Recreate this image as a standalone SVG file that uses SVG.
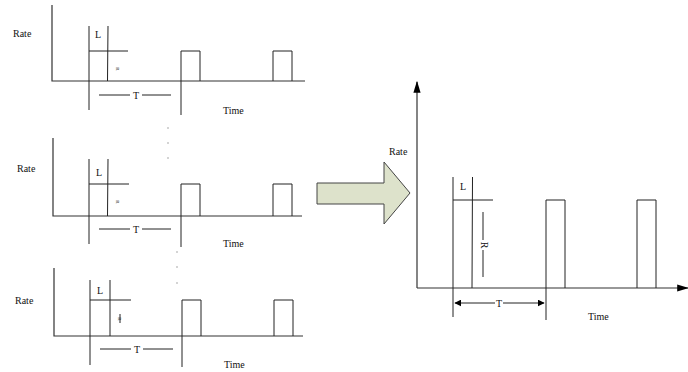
<svg xmlns="http://www.w3.org/2000/svg" width="688" height="372" viewBox="0 0 688 372">
<style>
.ln{stroke:#222;stroke-width:1;fill:none}
.ax{stroke:#333;stroke-width:1.2;fill:none}
.tx{font-family:"Liberation Serif","Times New Roman",serif;font-size:10px;fill:#111}
.sm{font-family:"Liberation Serif","Times New Roman",serif;font-size:5px;fill:#111}
.dot{fill:#555}
</style>
<defs>
<marker id="ah" viewBox="0 0 10 10" refX="9" refY="5" markerWidth="7" markerHeight="7" markerUnits="userSpaceOnUse" orient="auto-start-reverse">
<path d="M0,0 L10,5 L0,10 z" fill="#000"/>
</marker>
<marker id="ahb" viewBox="0 0 10 10" refX="9" refY="5" markerWidth="12" markerHeight="12" markerUnits="userSpaceOnUse" orient="auto">
<path d="M0,2 L10,5 L0,8 z" fill="#000"/>
</marker>
</defs>
<rect width="688" height="372" fill="#fff"/>

<g id="panel1">
<text class="tx" x="13" y="37">Rate</text>
<path class="ax" d="M52,5 V81 H305"/>
<path class="ln" d="M89,26 V110 M108,26 L107.5,81 M89,51 H128"/>
<text class="tx" x="95" y="38">L</text>
<text class="sm" transform="translate(116,69) rotate(90)" text-anchor="middle">R</text>
<path class="ln" d="M99,95 H130 M142,95 H171"/>
<text class="tx" x="136" y="98.5" text-anchor="middle">T</text>
<path class="ln" d="M181,51 V115 M181,51 H200 V81"/>
<path class="ln" d="M273,81 V51 H292 V81"/>
<text class="tx" x="223" y="114">Time</text>
</g>

<g id="panel2">
<text class="tx" x="17" y="172">Rate</text>
<path class="ax" d="M53,138 V216 H302"/>
<path class="ln" d="M89,159 V244 M108,159 L107.5,216 M89,184 H129"/>
<text class="tx" x="96" y="176">L</text>
<text class="sm" transform="translate(116,202) rotate(90)" text-anchor="middle">R</text>
<path class="ln" d="M99,229 H130 M142,229 H171"/>
<text class="tx" x="136" y="232.5" text-anchor="middle">T</text>
<path class="ln" d="M181,184 V247 M181,184 H200 V216"/>
<path class="ln" d="M273,216 V184 H292 V216"/>
<text class="tx" x="223" y="247">Time</text>
</g>

<g id="panel3">
<text class="tx" x="15" y="304">Rate</text>
<path class="ax" d="M54,268 V336 H303"/>
<path class="ln" d="M90,280 V365 M110,280 V336 M90,300 H131"/>
<text class="tx" x="97" y="294">L</text>
<path class="ln" d="M120,314 V323"/>
<text class="sm" transform="translate(118,319) rotate(90)" text-anchor="middle">R</text>
<path class="ln" d="M100,349 H131 M143,349 H173"/>
<text class="tx" x="137" y="352.5" text-anchor="middle">T</text>
<path class="ln" d="M182,300 V367 M182,300 H201 V336"/>
<path class="ln" d="M274,336 V300 H293 V336"/>
<text class="tx" x="224" y="368">Time</text>
</g>

<g id="dots">
<rect class="dot" x="167.5" y="127.5" width="1" height="1"/>
<rect class="dot" x="167.5" y="142.5" width="1" height="1"/>
<rect class="dot" x="167.5" y="157.5" width="1" height="1"/>
<rect class="dot" x="176.5" y="251.5" width="1" height="1"/>
<rect class="dot" x="176.5" y="266.5" width="1" height="1"/>
<rect class="dot" x="176.5" y="282.5" width="1" height="1"/>
</g>

<g id="bigArrow">
<path d="M317,183 H384 V162 L410,193 L384,224 V204 H317 Z" fill="#dde2cb" stroke="#444" stroke-width="1"/>
</g>

<g id="panelRight">
<text class="tx" x="389" y="155">Rate</text>
<path class="ax" d="M417,288 V82" marker-end="url(#ahb)"/>
<path class="ax" d="M417,288 H688" marker-end="url(#ahb)"/>
<path class="ln" d="M453,177 V317 M472.5,177 L472,288 M453,200 H493"/>
<text class="tx" x="460" y="190">L</text>
<path class="ln" d="M483,212 V240 M483,250 V277"/>
<text class="tx" transform="translate(480.5,245) rotate(90)" text-anchor="middle">R</text>
<path class="ln" d="M546,200 V320 M546,200 H565 V288"/>
<path class="ln" d="M637,288 V200 H656 V288"/>
<path class="ln" d="M455,303 H495" marker-start="url(#ah)"/>
<path class="ln" d="M503,303 H544" marker-end="url(#ah)"/>
<text class="tx" x="499" y="306.5" text-anchor="middle">T</text>
<text class="tx" x="588" y="320">Time</text>
</g>
</svg>
